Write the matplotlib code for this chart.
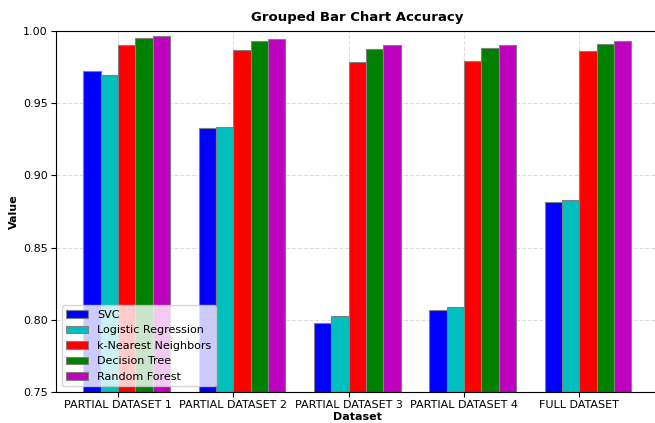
import numpy as np
import matplotlib
matplotlib.use("Agg")
import matplotlib.pyplot as plt

# Data
datasets = ["PARTIAL DATASET 1", "PARTIAL DATASET 2", "PARTIAL DATASET 3",
            "PARTIAL DATASET 4", "FULL DATASET"]
models = ["SVC", "Logistic Regression", "k-Nearest Neighbors",
          "Decision Tree", "Random Forest"]

svc = [0.9725, 0.933, 0.7978, 0.8068, 0.8816]
logreg = [0.9695, 0.9337, 0.8028, 0.8091, 0.8830]
knn = [0.9905, 0.9870, 0.9783, 0.9794, 0.9860]
dtree = [0.9950, 0.9929, 0.9877, 0.9885, 0.9912]
rforest = [0.9963, 0.9945, 0.9903, 0.9903, 0.9929]

colors = ["b", "c", "r", "g", "m"]

scores = [svc, logreg, knn, dtree, rforest]
width = 0.15
x = np.arange(len(datasets))

fig = plt.figure(figsize=(6.55, 4.23), dpi=100)
ax = fig.add_axes([0.0855, 0.0733, 0.92, 0.8534])

for i, (name, vals) in enumerate(zip(models, scores)):
    ax.bar(x + i * width, vals, width, align="edge", color=colors[i],
           edgecolor="grey", linewidth=0.8, label=name)

ax.set_xticks(x + 2 * width)
ax.set_xticklabels(datasets, fontsize=8)
ax.tick_params(axis="both", labelsize=8, pad=2.5)
ax.set_ylim(0.75, 1.0)
ax.set_yticks([0.75, 0.80, 0.85, 0.90, 0.95, 1.00])
ax.set_xlabel("Dataset", fontsize=8, fontweight="bold", labelpad=1)
ax.set_ylabel("Value", fontsize=8, fontweight="bold", labelpad=3)
ax.set_title("Grouped Bar Chart Accuracy", fontsize=9.5, fontweight="bold", pad=7)
ax.grid(True, linestyle="--", alpha=0.4)
ax.set_axisbelow(True)
ax.legend(loc="lower left", fontsize=8)

fig.savefig("out.png", dpi=100)
